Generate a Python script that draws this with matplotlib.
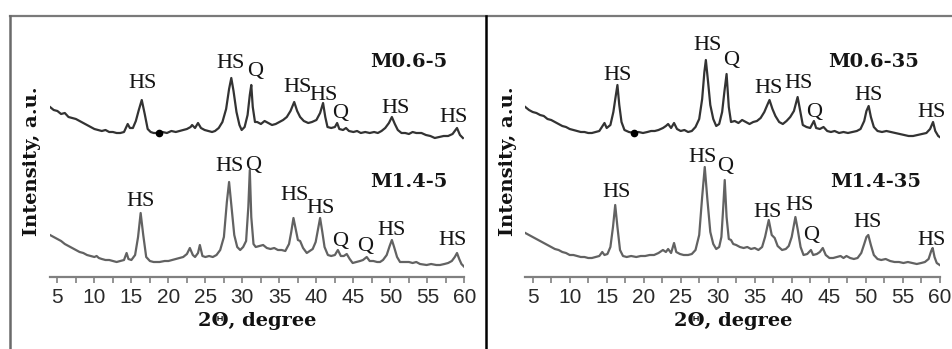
import matplotlib.pyplot as plt
from matplotlib.lines import Line2D
from matplotlib.ticker import MultipleLocator

# --- XRD patterns (intensity in a.u., curves already stacked) ---

# M0.6-5 (left panel, upper curve)
theta_m06_5 = [4.0, 4.5, 5.0, 5.5, 6.0, 6.5, 7.0, 7.5, 8.0, 8.5, 9.0, 9.5, 10.0, 10.5,
               11.0, 11.5, 12.0, 12.5, 13.0, 13.5, 14.0, 14.5, 14.8, 15.2, 15.6, 16.0,
               16.4, 16.8, 17.2, 17.6, 18.0, 18.6, 19.2, 19.8, 20.4, 21.0, 21.5, 22.0,
               22.5, 23.0, 23.2, 23.6, 24.0, 24.4, 24.9, 25.4, 25.9, 26.3, 26.8, 27.3,
               27.8, 28.2, 28.5, 28.8, 29.2, 29.6, 29.9, 30.3, 30.7, 31.0, 31.2, 31.4,
               31.7, 32.0, 32.5, 33.0, 33.5, 34.0, 34.5, 35.0, 35.5, 36.0, 36.5, 37.0,
               37.4, 37.8, 38.3, 38.9, 39.4, 40.0, 40.5, 40.9, 41.2, 41.5, 42.0, 42.5,
               42.8, 43.1, 43.6, 44.0, 44.4, 45.0, 45.5, 46.0, 46.6, 47.2, 47.8, 48.3,
               48.8, 49.3, 49.8, 50.2, 50.6, 51.0, 51.5, 52.0, 52.5, 53.0, 53.5, 54.2,
               54.8, 55.4, 56.0, 56.6, 57.2, 57.8, 58.4, 59.0, 59.4, 59.8]
int_m06_5 = [170, 167, 166, 163, 164, 160, 159, 158, 156, 154, 152, 150, 148, 147,
             146, 147, 145, 145, 144, 144, 145, 153, 149, 149, 156, 167,
             177, 163, 148, 145, 144, 144, 145, 144, 146, 145, 146, 147,
             148, 150, 152, 149, 154, 149, 147, 146, 145, 146, 149, 155,
             168, 188, 199, 186, 165, 152, 147, 150, 162, 182, 192, 170,
             155, 155, 153, 156, 154, 152, 153, 155, 157, 160, 166, 175,
             166, 160, 156, 154, 155, 157, 164, 174, 160, 150, 149, 150,
             154, 148, 147, 149, 146, 145, 146, 144, 145, 144, 145, 144,
             146, 149, 154, 160, 153, 147, 144, 144, 143, 145, 144, 144,
             142, 141, 139, 140, 141, 141, 143, 149, 142, 139]

# M1.4-5 (left panel, lower curve)
theta_m14_5 = [4.0, 4.5, 5.0, 5.5, 6.0, 6.5, 7.0, 7.5, 8.0, 8.5, 9.0, 9.5, 10.0, 10.3,
               10.6, 11.0, 11.5, 12.0, 12.5, 13.0, 13.5, 14.0, 14.35, 14.6, 15.0, 15.5,
               15.9, 16.25, 16.6, 17.0, 17.5, 18.0, 18.8, 19.5, 20.0, 20.5, 21.0, 21.5,
               22.0, 22.5, 22.9, 23.3, 23.6, 24.0, 24.25, 24.6, 25.0, 25.5, 26.0, 26.5,
               27.0, 27.5, 27.9, 28.2, 28.5, 28.9, 29.3, 29.7, 30.1, 30.5, 30.8, 31.0,
               31.2, 31.5, 31.8, 32.3, 32.8, 33.3, 33.8, 34.3, 34.8, 35.3, 35.8, 36.3,
               36.6, 36.9, 37.2, 37.5, 37.8, 38.2, 38.7, 39.1, 39.5, 39.9, 40.2, 40.5,
               40.8, 41.1, 41.55, 42.0, 42.5, 42.9, 43.3, 43.7, 44.1, 44.5, 44.9, 45.4,
               45.9, 46.3, 46.8, 47.2, 47.7, 48.2, 48.6, 49.0, 49.5, 49.9, 50.2, 50.5,
               50.9, 51.3, 51.8, 52.5, 53.0, 53.5, 54.0, 54.9, 55.5, 56.2, 56.7, 57.3,
               57.8, 58.3, 58.7, 59.0, 59.3, 59.6, 60.0]
int_m14_5 = [42, 40, 38, 36, 33, 31, 29, 27, 25, 24, 22, 21, 20, 21,
             19, 18, 17, 17, 16, 15, 16, 17, 24, 18, 17, 22,
             40, 64, 42, 20, 16, 15, 15, 16, 16, 17, 18, 19,
             20, 23, 29, 22, 20, 24, 32, 21, 20, 21, 20, 22,
             27, 40, 75, 95, 72, 42, 30, 27, 30, 36, 70, 107,
             60, 33, 30, 31, 32, 29, 28, 29, 27, 27, 26, 33,
             45, 59, 48, 37, 36, 29, 24, 26, 28, 35, 47, 59,
             45, 30, 22, 21, 22, 27, 21, 21, 23, 18, 14, 15,
             16, 17, 20, 16, 16, 15, 15, 17, 22, 31, 37, 30,
             20, 15, 15, 15, 14, 15, 13, 12, 13, 12, 12, 13,
             14, 16, 20, 24, 18, 13, 10]

# M0.6-35 (right panel, upper curve)
theta_m06_35 = [4.0, 4.5, 5.0, 5.5, 6.0, 6.5, 7.0, 7.5, 8.0, 8.5, 9.0, 9.5, 10.0, 10.5,
                11.0, 11.5, 12.0, 12.5, 13.0, 13.5, 14.0, 14.7, 15.0, 15.5, 15.9, 16.2,
                16.45, 16.7, 17.0, 17.4, 18.0, 18.7, 19.3, 19.9, 20.5, 21.0, 21.5, 22.0,
                22.6, 23.0, 23.3, 23.7, 24.1, 24.5, 25.0, 25.5, 26.0, 26.5, 27.0, 27.5,
                27.9, 28.2, 28.4, 28.7, 29.0, 29.4, 29.8, 30.2, 30.6, 30.9, 31.2, 31.5,
                31.8, 32.3, 32.8, 33.3, 33.8, 34.3, 34.8, 35.3, 35.8, 36.3, 36.7, 37.0,
                37.4, 37.8, 38.3, 38.8, 39.3, 39.8, 40.3, 40.8, 41.1, 41.5, 42.0, 42.5,
                43.0, 43.3, 43.8, 44.3, 44.8, 45.3, 45.8, 46.4, 47.0, 47.6, 48.2, 48.8,
                49.3, 49.8, 50.1, 50.4, 50.7, 51.1, 51.6, 52.2, 52.8, 53.4, 54.0, 54.6,
                55.2, 55.8, 56.4, 57.0, 57.6, 58.2, 58.7, 59.1, 59.4, 59.8, 60.0]
int_m06_35 = [170, 167, 165, 164, 162, 161, 158, 157, 155, 153, 151, 150, 148, 147,
              146, 145, 145, 144, 144, 145, 146, 154, 149, 152, 165, 180,
              192, 172, 155, 147, 145, 144, 145, 144, 145, 146, 146, 147,
              149, 151, 153, 149, 154, 148, 146, 147, 145, 146, 150, 158,
              178, 205, 217, 195, 172, 158, 151, 153, 165, 185, 203, 170,
              155, 156, 154, 157, 155, 153, 155, 156, 159, 165, 172, 177,
              168, 161, 155, 153, 156, 160, 166, 180, 168, 152, 150, 149,
              156, 149, 148, 150, 146, 145, 146, 144, 145, 144, 145, 146,
              148, 156, 166, 171, 160, 150, 146, 145, 146, 145, 144, 143,
              142, 141, 141, 142, 143, 144, 148, 155, 146, 141, 140]

# M1.4-35 (right panel, lower curve)
theta_m14_35 = [4.0, 4.5, 5.0, 5.5, 6.0, 6.5, 7.0, 7.5, 8.0, 8.5, 9.0, 9.5, 10.0, 10.5,
                11.0, 11.5, 12.0, 12.5, 13.0, 13.5, 14.0, 14.4, 14.7, 15.1, 15.5, 15.85,
                16.15, 16.45, 16.8, 17.2, 17.7, 18.3, 19.0, 19.6, 20.2, 20.8, 21.4, 22.0,
                22.6, 23.0, 23.3, 23.7, 24.1, 24.4, 24.9, 25.4, 26.0, 26.5, 27.0, 27.5,
                27.9, 28.25, 28.6, 29.0, 29.4, 29.8, 30.2, 30.5, 30.75, 30.95, 31.2, 31.5,
                31.8, 32.1, 32.5, 33.0, 33.5, 34.0, 34.5, 35.0, 35.5, 36.0, 36.4, 36.9,
                37.3, 37.7, 38.1, 38.7, 39.2, 39.6, 40.0, 40.3, 40.5, 40.8, 41.2, 41.6,
                42.1, 42.6, 42.9, 43.4, 43.8, 44.2, 44.6, 45.1, 45.6, 46.1, 46.6, 47.0,
                47.4, 47.9, 48.4, 48.9, 49.4, 49.8, 50.1, 50.35, 50.7, 51.1, 51.6, 52.1,
                52.7, 53.3, 53.9, 54.5, 55.1, 55.7, 56.3, 56.9, 57.5, 58.0, 58.5, 58.85,
                59.05, 59.3, 59.6, 60.0]
int_m14_35 = [44, 42, 40, 38, 36, 34, 32, 30, 28, 27, 25, 24, 22, 22,
              21, 20, 20, 19, 19, 20, 21, 25, 22, 23, 30, 50,
              72, 50, 27, 21, 20, 21, 20, 21, 21, 22, 22, 24,
              27, 25, 28, 24, 34, 25, 23, 22, 22, 23, 27, 42,
              80, 110, 78, 45, 33, 28, 30, 40, 70, 97, 60, 38,
              37, 33, 32, 30, 29, 30, 28, 29, 27, 30, 40, 57,
              42, 39, 31, 27, 28, 31, 40, 52, 60, 48, 30, 22,
              23, 27, 22, 23, 25, 29, 22, 19, 19, 20, 21, 19,
              21, 19, 18, 19, 24, 33, 40, 42, 32, 22, 18, 17,
              18, 16, 15, 15, 14, 15, 14, 13, 14, 15, 18, 26,
              29, 20, 14, 12]

# small black dot sitting on the upper curves
dot_theta = [18.7]
dot_int = [144]

# peak labels: (text, 2theta, intensity)
labels_m06_5 = [("HS", 16.5, 193), ("HS", 28.4, 213), ("Q", 31.7, 205), ("HS", 37.4, 189),
                ("HS", 41.0, 181), ("Q", 43.2, 163), ("HS", 50.7, 168), ("HS", 58.6, 159)]
labels_m14_5 = [("HS", 16.3, 75), ("HS", 28.2, 110), ("Q", 31.4, 111), ("HS", 37.0, 81),
                ("HS", 40.5, 68), ("Q", 43.2, 35), ("Q", 46.6, 30), ("HS", 50.1, 46),
                ("HS", 58.4, 36)]
labels_m06_35 = [("HS", 16.5, 201), ("HS", 28.6, 231), ("Q", 31.8, 216), ("HS", 36.9, 188),
                 ("HS", 40.9, 193), ("Q", 43.0, 164), ("HS", 50.4, 181), ("HS", 58.9, 164)]
labels_m14_35 = [("HS", 16.3, 84), ("HS", 28.0, 119), ("Q", 31.0, 110), ("HS", 36.7, 64),
                 ("HS", 41.0, 71), ("Q", 42.6, 41), ("HS", 50.3, 54), ("HS", 58.9, 36)]

# sample names: (text, 2theta, intensity)
names_left = [("M0.6-5", 52.5, 215), ("M1.4-5", 52.5, 95)]
names_right = [("M0.6-35", 51.0, 215), ("M1.4-35", 51.3, 95)]

W, H = 952, 349
plt.rcParams['font.family'] = ['Liberation Sans', 'DejaVu Sans']


def fx(px):
    return px / W


def fy(py):
    return 1 - py / H


def draw_panel(ax, upper, lower, peak_labels, names):
    ax.patch.set_visible(False)
    ax.plot(upper[0], upper[1], color='#333333', lw=1.6)
    ax.plot(lower[0], lower[1], color='#626262', lw=1.6)
    ax.plot(dot_theta, dot_int, 'o', color='black', ms=4.5)

    for group in peak_labels:
        for txt, x, y in group:
            ax.text(x, y, txt, ha='center', va='center', fontsize=16,
                    family='Liberation Serif', color='#151515')
    for txt, x, y in names:
        ax.text(x, y, txt, ha='center', va='center', fontsize=14,
                family='DejaVu Serif', fontweight='bold', color='#151515')

    ax.set_xlim(4, 60)
    ax.set_ylim(0, 262)
    ax.set_yticks([])
    for side in ['left', 'right', 'top']:
        ax.spines[side].set_visible(False)
    ax.spines['bottom'].set_color('#808080')
    ax.spines['bottom'].set_linewidth(1.6)
    ax.xaxis.set_major_locator(MultipleLocator(5))
    ax.xaxis.set_minor_locator(MultipleLocator(2.5))
    ax.set_xticks(range(5, 61, 5))
    ax.tick_params(axis='x', which='both', direction='out', length=4, width=1.2,
                   color='#808080', labelsize=15, labelcolor='#2a2a2a', pad=4)


fig = plt.figure(figsize=(W / 100, H / 100), dpi=100)

ax_left = fig.add_axes([fx(50), fy(277), fx(414.4), (277 - 15) / H])
ax_right = fig.add_axes([fx(525.3), fy(277), fx(414.4), (277 - 15) / H])

draw_panel(ax_left, (theta_m06_5, int_m06_5), (theta_m14_5, int_m14_5),
           [labels_m06_5, labels_m14_5], names_left)
draw_panel(ax_right, (theta_m06_35, int_m06_35), (theta_m14_35, int_m14_35),
           [labels_m06_35, labels_m14_35], names_right)

# axis titles
for cx in [32, 507.7]:
    fig.text(fx(cx), fy(161), "Intensity, a.u.", rotation=90, ha='center', va='center',
             fontsize=14, family='DejaVu Serif', fontweight='bold', color='#111111')
for cx in [257, 732.7]:
    fig.text(fx(cx), fy(321), "2\u0398, degree", ha='center', va='center',
             fontsize=14, family='DejaVu Serif', fontweight='bold', color='#111111')

# frame lines around the panels
fig.add_artist(Line2D([fx(9.5), 1], [fy(15.5), fy(15.5)], color='#7a7a7a', lw=1.6))
fig.add_artist(Line2D([fx(9.5), fx(9.5)], [fy(15.5), 0], color='#6a6a6a', lw=1.8))
fig.add_artist(Line2D([fx(486.5), fx(486.5)], [fy(15.5), 0], color='black', lw=1.8))

fig.savefig("out.png", dpi=100)
